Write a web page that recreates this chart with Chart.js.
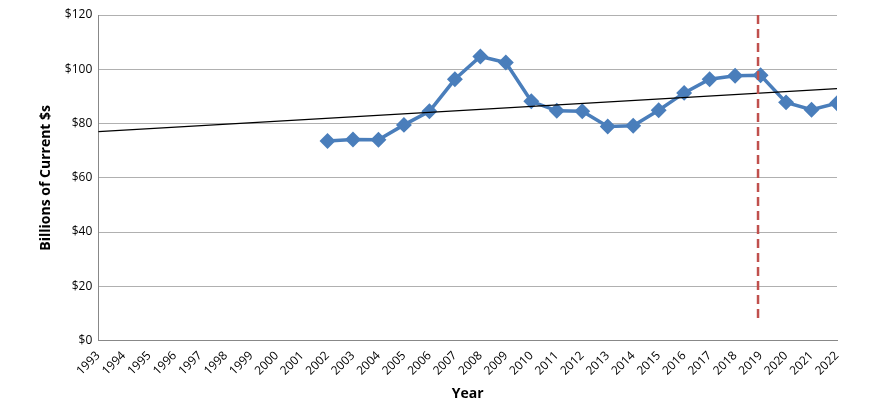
<!DOCTYPE html>
<html>
<head>
<meta charset="utf-8">
<script src="https://cdn.jsdelivr.net/npm/chart.js@4"></script>
<style>
  html, body { margin: 0; padding: 0; background: #fff; }
  #wrap { width: 870px; height: 416px; }
</style>
</head>
<body>
<div id="wrap"><canvas id="chart"></canvas></div>
<script>
// Year range on the x axis
const firstYear = 1993;
const lastYear = 2022;

// Series values (billions of current $)
const years = [2002, 2003, 2004, 2005, 2006, 2007, 2008, 2009, 2010, 2011, 2012,
  2013, 2014, 2015, 2016, 2017, 2018, 2019, 2020, 2021, 2022];
const values = [73.6, 74.1, 74.0, 79.5, 84.5, 96.3, 104.7, 102.5, 88.2, 84.7, 84.5,
  78.9, 79.2, 84.9, 91.3, 96.3, 97.6, 97.8, 87.8, 85.1, 87.5];

// Trend line end points
const trendYears = [1993, 2022];
const trendValues = [77.0, 92.9];

// Vertical marker
const markerYear = [2018.9, 2018.9];
const markerValues = [120, 7];

const yTicks = [0, 20, 40, 60, 80, 100, 120];

const toPoints = (xs, ys) => xs.map((x, i) => ({ x, y: ys[i] }));

new Chart(document.getElementById("chart"), {
  type: "line",
  data: {
    datasets: [
      {
        data: toPoints(markerYear, markerValues),
        borderColor: "#c0504d",
        borderWidth: 2.5,
        borderDash: [9, 5],
        pointRadius: 0
      },
      {
        data: toPoints(trendYears, trendValues),
        borderColor: "#000",
        borderWidth: 1.3,
        pointRadius: 0
      },
      {
        data: toPoints(years, values),
        borderColor: "#4a7ebb",
        backgroundColor: "#4a7ebb",
        borderWidth: 3.5,
        pointStyle: "rectRot",
        pointRadius: 5.5,
        tension: 0
      }
    ]
  },
  options: {
    responsive: true,
    maintainAspectRatio: false,
    animation: false,
    layout: { padding: { left: 34, right: 33, top: 15, bottom: 10 } },
    plugins: { legend: { display: false }, tooltip: { enabled: false } },
    scales: {
      x: {
        type: "linear",
        min: firstYear,
        max: lastYear,
        afterBuildTicks: axis => {
          axis.ticks = [];
          for (let y = firstYear; y <= lastYear; y++) axis.ticks.push({ value: y });
        },
        ticks: {
          callback: v => String(v),
          maxRotation: 45,
          minRotation: 45,
          color: "#000",
          font: { family: "Open Sans", size: 12 }
        },
        grid: { display: false, drawTicks: true, tickLength: 5, color: "#888" },
        border: { display: true, color: "#888" },
        title: {
          display: true,
          text: "Year",
          color: "#000",
          font: { family: "Open Sans", size: 14, weight: "bold" }
        }
      },
      y: {
        min: 0,
        max: 120,
        afterBuildTicks: axis => { axis.ticks = yTicks.map(v => ({ value: v })); },
        ticks: {
          callback: v => "$" + v,
          color: "#000",
          padding: 6,
          font: { family: "Open Sans", size: 12 }
        },
        grid: { color: "#b0b0b0", drawTicks: false },
        border: { display: true, color: "#888" },
        title: {
          display: true,
          text: "Billions of Current $s",
          color: "#000",
          font: { family: "Open Sans", size: 14, weight: "bold" }
        }
      }
    }
  }
});
</script>
</body>
</html>
